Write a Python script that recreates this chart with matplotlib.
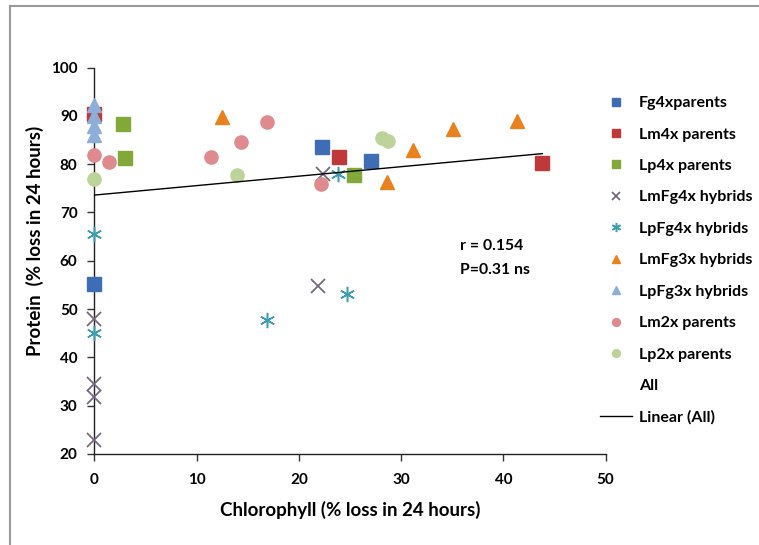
"""Protein vs chlorophyll loss scatter, Excel-style."""

import matplotlib
matplotlib.use("Agg")
import matplotlib.pyplot as plt
from matplotlib.lines import Line2D

# chlorophyll (% loss) / protein (% loss) per group
fg4x_x = [0, 22.3, 27.1]
fg4x_y = [55.1, 83.5, 80.6]
lm4x_x = [0, 23.9, 43.8]
lm4x_y = [90.4, 81.5, 80.3]
lp4x_x = [2.8, 3.0, 25.4]
lp4x_y = [88.4, 81.2, 77.7]
lmfg4x_x = [0, 0, 0, 0, 22.4, 21.9]
lmfg4x_y = [48.0, 34.4, 31.8, 22.9, 77.9, 54.7]
lpfg4x_x = [0, 0, 23.8, 16.9, 24.7]
lpfg4x_y = [65.6, 45.0, 77.9, 47.7, 53.1]
lmfg3x_x = [12.5, 28.6, 31.2, 35.1, 41.3]
lmfg3x_y = [89.8, 76.3, 82.9, 87.2, 89.0]
lpfg3x_x = [0, 0, 0, 0]
lpfg3x_y = [86.0, 88.0, 90.0, 92.3]
lm2x_x = [0, 1.4, 11.4, 14.3, 16.9, 22.2]
lm2x_y = [81.9, 80.4, 81.4, 84.6, 88.8, 76.0]
lp2x_x = [0, 14.0, 28.1, 28.7]
lp2x_y = [77.0, 77.7, 85.5, 84.8]

# linear trend (All), as shown on the chart
trend_intercept = 73.6
trend_slope = 0.196

stats_text = ["r = 0.154", "P=0.31 ns"]

FONT = "Lato"
plt.rcParams["font.family"] = [FONT, "DejaVu Sans"]
plt.rcParams["font.weight"] = "bold"

fig = plt.figure(figsize=(7.59, 5.45), dpi=100)
ax = fig.add_axes([0.1242, 0.167, 0.6738, 0.709])

series = [
    ("Fg4xparents", fg4x_x, fg4x_y, dict(marker="s", color="#3E6DB5", ms=9.5)),
    ("Lm4x parents", lm4x_x, lm4x_y, dict(marker="s", color="#C0393A", ms=9.5)),
    ("Lp4x parents", lp4x_x, lp4x_y, dict(marker="s", color="#83A83A", ms=9.5)),
    ("LmFg4x hybrids", lmfg4x_x, lmfg4x_y,
     dict(marker="x", color="#75697F", ms=10.5, mew=1.3)),
    ("LpFg4x hybrids", lpfg4x_x, lpfg4x_y,
     dict(marker=(6, 2, 0), color="#3D9EB3", ms=11, mew=1.1)),
    ("LmFg3x hybrids", lmfg3x_x, lmfg3x_y, dict(marker="^", color="#E8811E", ms=10)),
    ("LpFg3x hybrids", lpfg3x_x, lpfg3x_y, dict(marker="^", color="#8EAEDA", ms=10)),
    ("Lm2x parents", lm2x_x, lm2x_y, dict(marker="o", color="#DE8A8E", ms=9.5)),
    ("Lp2x parents", lp2x_x, lp2x_y, dict(marker="o", color="#BCD49A", ms=9.5)),
]

handles = []
for label, xs, ys, style in series:
    ax.plot(xs, ys, linestyle="none", clip_on=False, zorder=3, **style)
    hstyle = dict(style)
    hstyle["ms"] = style["ms"] * 0.6
    handles.append(Line2D([], [], linestyle="none", label=label, **hstyle))

# trend line over all points
all_x = fg4x_x + lm4x_x + lp4x_x + lmfg4x_x + lpfg4x_x + lmfg3x_x + lpfg3x_x + lm2x_x + lp2x_x
x_end = max(all_x)
ax.plot([0, x_end], [trend_intercept, trend_intercept + trend_slope * x_end],
        color="black", lw=1.0, zorder=4)

handles.append(Line2D([], [], linestyle="none", marker="none", label="All"))
handles.append(Line2D([], [], color="black", lw=1.0, label="Linear (All)"))

ax.text(35.8, 63.0, stats_text[0], fontsize=11.3, fontweight="bold", va="center")
ax.text(35.8, 58.0, stats_text[1], fontsize=11.3, fontweight="bold", va="center")

ax.set_xlim(0, 50)
ax.set_ylim(20, 100)
ax.set_xticks(range(0, 51, 10))
ax.set_yticks(range(20, 101, 10))
ax.tick_params(labelsize=11, length=5, width=1, color="#333333", pad=7)
ax.tick_params(axis="x", pad=9)
for s in ("top", "right"):
    ax.spines[s].set_visible(False)
for s in ("left", "bottom"):
    ax.spines[s].set_color("#222222")
    ax.spines[s].set_linewidth(1.0)

ax.set_xlabel("Chlorophyll (% loss in 24 hours)", fontsize=13.5, fontweight="bold",
              labelpad=10)
ax.set_ylabel("Protein  (% loss in 24 hours)", fontsize=13.5, fontweight="bold")
ax.yaxis.set_label_coords(-0.098, 0.551)

ax.legend(handles=handles, loc="upper left", bbox_to_anchor=(0.791, 0.824),
          bbox_transform=fig.transFigure, frameon=False, fontsize=11.5,
          handlelength=2.0, handletextpad=0.4, labelspacing=1.08,
          borderaxespad=0, borderpad=0)

# outer chart frame (left and top edges visible)
fig.add_artist(Line2D([10 / 759, 10 / 759], [0, 1 - 6 / 545], color="#9a9a9a", lw=1.5))
fig.add_artist(Line2D([10 / 759, 1], [1 - 6 / 545, 1 - 6 / 545], color="#9a9a9a", lw=1.5))

plt.savefig("out.png", dpi=100)
plt.close()
